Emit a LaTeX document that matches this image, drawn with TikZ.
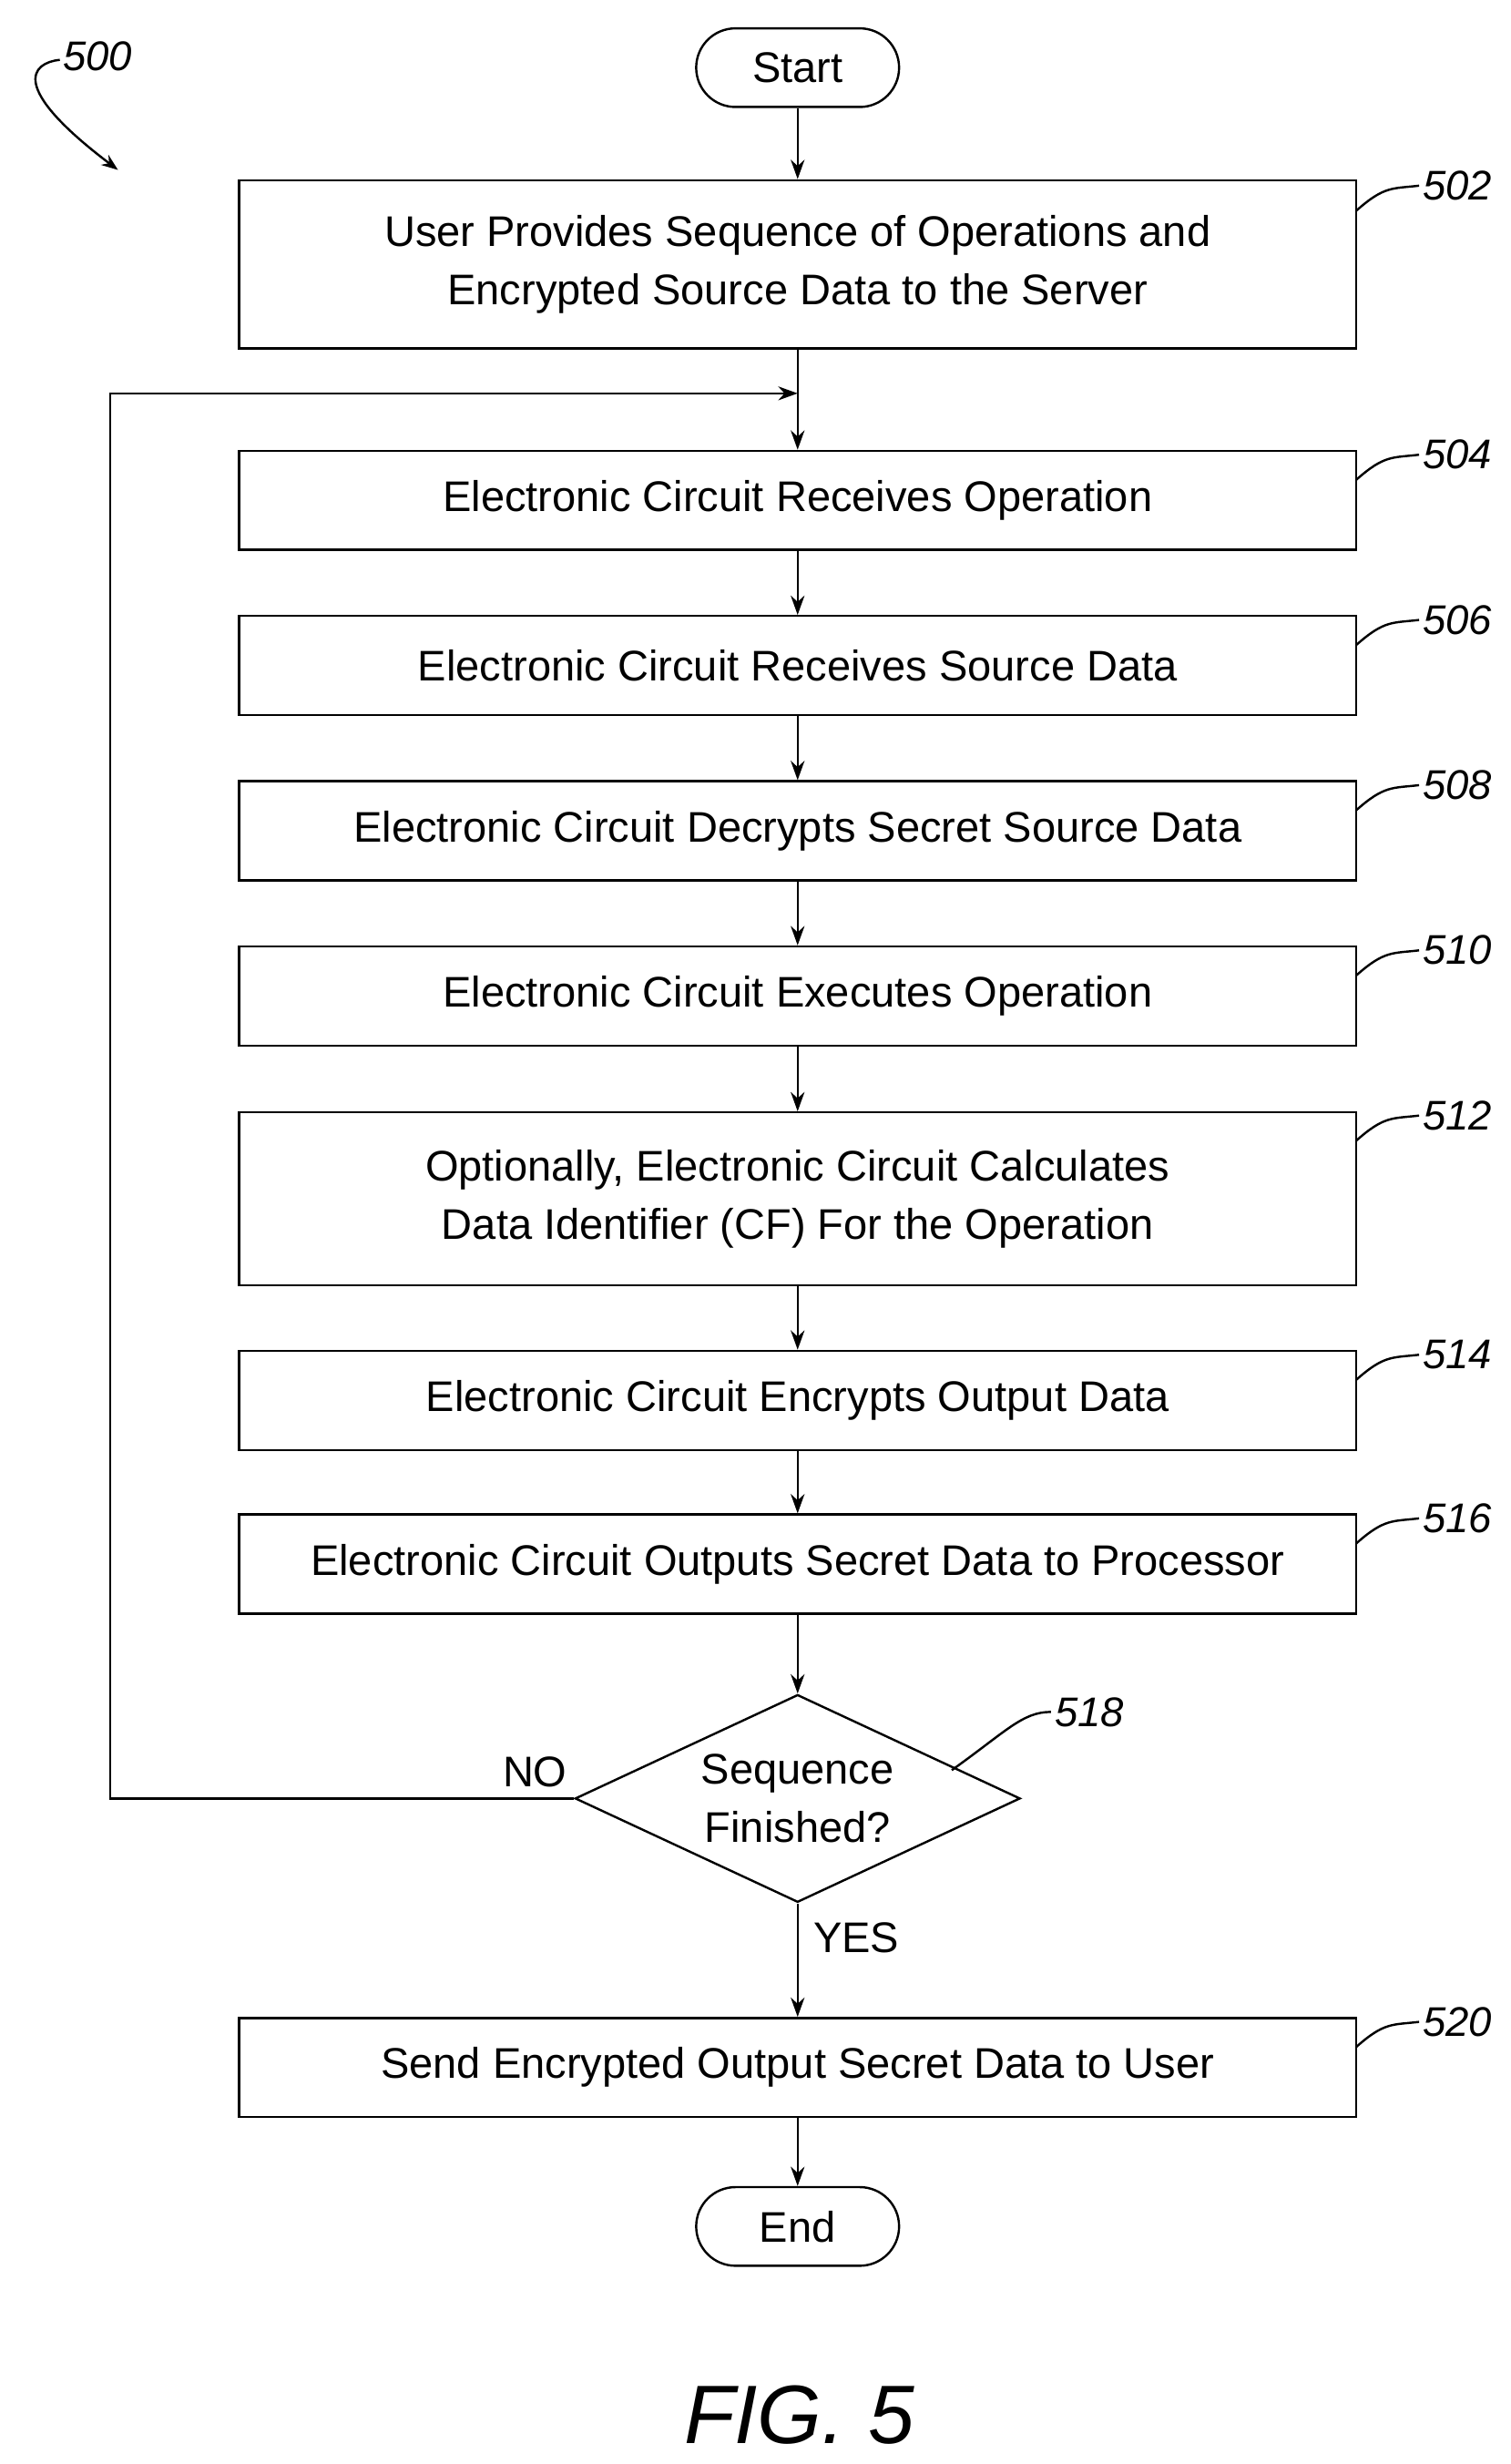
\documentclass[tikz,border=0pt]{standalone}
\usepackage{fontspec}
\setmainfont{Liberation Sans}
\usetikzlibrary{arrows.meta}
\usetikzlibrary{shapes.geometric}
\usetikzlibrary{calc}

\begin{document}
\begin{tikzpicture} [x=0.02cm, y=-0.02cm, font=\fontsize{15.5}{21}\selectfont]
\tikzset{
  box/.style={draw, thick, minimum width=14.2cm, minimum height=1.26cm, align=center, inner sep=0pt},
  term/.style={draw, thick, rounded corners=0.5cm, minimum width=2.58cm, minimum height=1cm},
  flow/.style={thick, -{Stealth[length=7pt, width=5pt]}},
  tag/.style={font=\fontsize{15}{15}\itshape\selectfont}
}
\useasboundingbox (0,0) rectangle (960,1566);

\node[term] (start) at (507,43) {Start};
\node[box, minimum height=2.14cm] (s502) at (507,168) {User Provides Sequence of Operations and\\Encrypted Source Data to the Server};
\coordinate (join) at (507,250);
\node[box] (s504) at (507,318) {Electronic Circuit Receives Operation};
\node[box] (s506) at (507,423) {Electronic Circuit Receives Source Data};
\node[box] (s508) at (507,528) {Electronic Circuit Decrypts Secret Source Data};
\node[box] (s510) at (507,633) {Electronic Circuit Executes Operation};
\node[box, minimum height=2.2cm] (s512) at (507,762) {Optionally, Electronic Circuit Calculates\\Data Identifier (CF) For the Operation};
\node[box] (s514) at (507,890) {Electronic Circuit Encrypts Output Data};
\node[box] (s516) at (507,994) {Electronic Circuit Outputs Secret Data to Processor};
\node[draw, thick, diamond, aspect=2.15, minimum width=5.66cm, minimum height=2.64cm, inner sep=0pt, align=center] (s518) at (507,1143) {Sequence\\Finished?};
\node[box] (s520) at (507,1314) {Send Encrypted Output Secret Data to User};
\node[term] (end) at (507,1415) {End};

% main flow
\draw[flow] (start) -- (s502);
\draw[thick] (s502) -- (join);
\draw[flow] (join) -- (s504);
\draw[flow] (s504) -- (s506);
\draw[flow] (s506) -- (s508);
\draw[flow] (s508) -- (s510);
\draw[flow] (s510) -- (s512);
\draw[flow] (s512) -- (s514);
\draw[flow] (s514) -- (s516);
\draw[flow] (s516) -- (s518);
\draw[flow] (s518) -- node[right, xshift=2pt, yshift=8pt] {YES} (s520);
\draw[flow] (s520) -- (end);
\coordinate (loopA) at (70,1143);
\coordinate (loopB) at (70,250);
\draw[flow] (s518.west) -- (loopA) -- (loopB) -- (join);
\node (no) at (340,1126) {NO};

% reference numerals
\foreach \n/\y in {502/118, 504/289, 506/394, 508/499, 510/604, 512/709, 514/861, 516/965, 520/1285}
  \draw[thick] (862,\y+16) .. controls (880,\y) and (885,\y+2) .. (902,\y) node[tag, right, inner sep=1pt] {\n};
\draw[thick] (605,1125) .. controls (640,1100) and (650,1088) .. (668,1088) node[tag, right, inner sep=1pt] {518};
\node[tag, right, inner sep=1pt] (fig) at (38,36) {500};
\draw[thick, -{Stealth[length=6pt]}] (38,38) .. controls (20,40) and (5,55) .. (75,108);
\node[font=\fontsize{30}{30}\itshape\selectfont] (title) at (508,1535) {FIG. 5};
\end{tikzpicture}
\end{document}
